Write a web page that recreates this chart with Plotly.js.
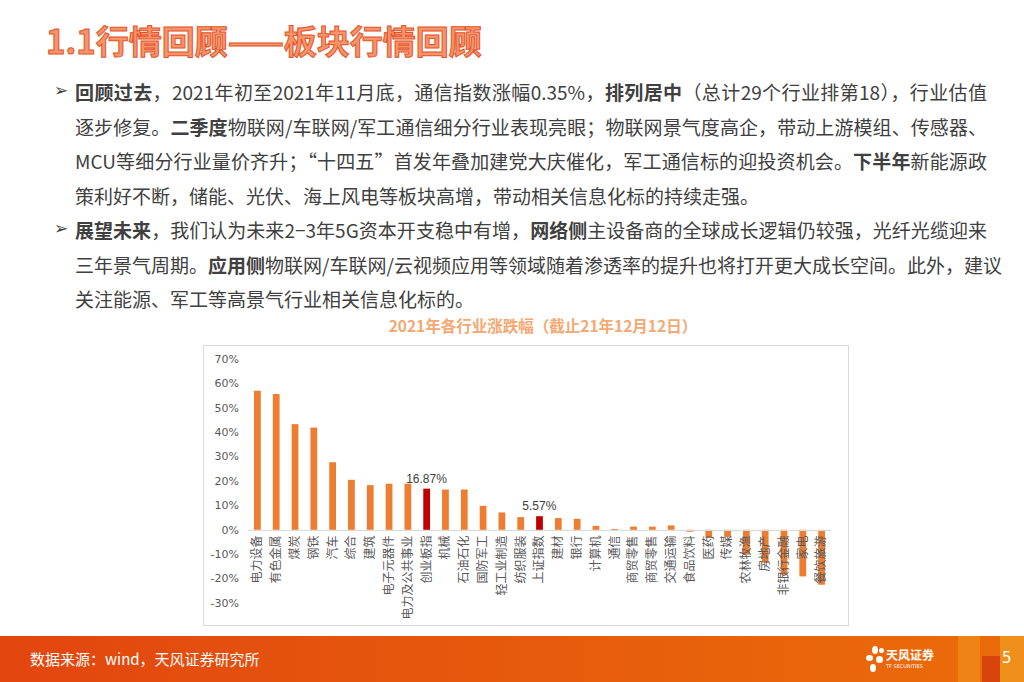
<!DOCTYPE html>
<html>
<head>
<meta charset="utf-8">
<script src="https://cdn.plot.ly/plotly-3.0.1.min.js"></script>
<style>
  html, body { margin:0; padding:0; width:1024px; height:682px; overflow:hidden; background:#fff;
    font-family:"Noto Sans CJK SC","Noto Sans",sans-serif; }
  #title { position:absolute; left:46px; top:16px; font-size:33px; font-weight:bold; color:#F59468;
    -webkit-text-stroke:1px #E4542C; letter-spacing:0px; white-space:nowrap; }
  #body { position:absolute; left:75px; top:75px; width:912px; font-size:19px; line-height:34.5px; color:#404040; }
  .ln { text-align:justify; text-align-last:justify; white-space:nowrap; height:34.5px; }
  .last { text-align-last:left; }
  b { font-weight:bold; color:#404040; }
  .bullet { position:absolute; left:54px; font-size:17px; color:#404040; font-family:"DejaVu Sans"; }
  #frame { position:absolute; left:203px; top:345px; width:644px; height:279px; border:1px solid #D9D9D9; }
  #chart { position:absolute; left:203px; top:310px; width:645px; height:315px; }
  #footer { position:absolute; left:0; top:636px; width:1024px; height:46px;
    background:linear-gradient(90deg,#E2460F 0%,#E65A0C 50%,#EB6C0A 100%); }
  #src { position:absolute; left:30px; top:12px; color:#fff; font-size:15px; }
  #logo { position:absolute; left:866px; top:10px; color:#fff; }
  #logo .nm { position:absolute; left:20px; top:0px; font-size:12px; font-weight:bold; white-space:nowrap; }
  #logo .en { position:absolute; left:20px; top:17px; font-size:5px; white-space:nowrap; font-family:"DejaVu Sans"; }
  .pet { position:absolute; background:#fff; border-radius:50%; }
  #blk1 { position:absolute; left:958px; top:0; width:22px; height:46px; background:#EE8A18; opacity:0.8; }
  #blk2 { position:absolute; left:982px; top:20px; width:18px; height:26px; background:#D9440C; }
  #blk3 { position:absolute; left:1000px; top:0; width:24px; height:46px; background:#F0901C; }
  #pg { position:absolute; left:1002px; top:13px; color:#fff; font-size:15px; font-family:"DejaVu Sans"; }
</style>
</head>
<body>
<div id="title">1.1行情回顾——板块行情回顾</div>
<span class="bullet" style="top:80px">➢</span>
<span class="bullet" style="top:218px">➢</span>
<div id="body">
  <div class="ln"><b>回顾过去</b>，2021年初至2021年11月底，通信指数涨幅0.35%，<b>排列居中</b>（总计29个行业排第18），行业估值</div>
  <div class="ln">逐步修复。<b>二季度</b>物联网/车联网/军工通信细分行业表现亮眼；物联网景气度高企，带动上游模组、传感器、</div>
  <div class="ln">MCU等细分行业量价齐升；“十四五”首发年叠加建党大庆催化，军工通信标的迎投资机会。<b>下半年</b>新能源政</div>
  <div class="ln last">策利好不断，储能、光伏、海上风电等板块高增，带动相关信息化标的持续走强。</div>
  <div class="ln"><b>展望未来</b>，我们认为未来2−3年5G资本开支稳中有增，<b>网络侧</b>主设备商的全球成长逻辑仍较强，光纤光缆迎来</div>
  <div class="ln">三年景气周期。<b>应用侧</b>物联网/车联网/云视频应用等领域随着渗透率的提升也将打开更大成长空间。此外，建议</div>
  <div class="ln last">关注能源、军工等高景气行业相关信息化标的。</div>
</div>
<div id="frame"></div>
<div id="chart"></div>
<div id="footer">
  <div id="src">数据来源：wind，天风证券研究所</div>
  <div id="logo">
    <div class="pet" style="left:6px;top:0px;width:6px;height:8px"></div>
    <div class="pet" style="left:0px;top:9px;width:7px;height:6px"></div>
    <div class="pet" style="left:10px;top:10px;width:7px;height:7px"></div>
    <div class="pet" style="left:4px;top:18px;width:6px;height:8px"></div>
    <div class="pet" style="left:13px;top:2px;width:5px;height:5px"></div>
    <div class="nm">天风证券</div>
    <div class="en">TF SECURITIES</div>
  </div>
  <div id="blk1"></div><div id="blk2"></div><div id="blk3"></div>
  <div id="pg">5</div>
</div>
<script>
const categories = ['电力设备','有色金属','煤炭','钢铁','汽车','综合','建筑','电子元器件','电力及公共事业','创业板指',
  '机械','石油石化','国防军工','轻工业制造','纺织服装','上证指数','建材','银行','计算机','通信',
  '商贸零售','商贸零售','交通运输','食品饮料','医药','传媒','农林牧渔','房地产','非银行金融','家电','餐饮旅游'];
const changePct = [57.0, 55.7, 43.3, 41.9, 27.7, 20.5, 18.3, 18.9, 18.9, 16.87,
  16.5, 16.5, 9.8, 7.1, 5.2, 5.57, 4.8, 4.5, 1.6, 0.35,
  1.3, 1.3, 1.8, -0.8, -3.3, -2.9, -10.2, -13.5, -18.4, -19.1, -22.5];
const indexNames = ['创业板指','上证指数'];
const yTickVals = [-30,-20,-10,0,10,20,30,40,50,60,70];

const xs = categories.map((c,i)=>i);
const colors = categories.map(c => indexNames.includes(c) ? '#C00000' : '#ED7D31');
const labels = categories.map((c,i) => indexNames.includes(c) ? changePct[i].toFixed(2)+'%' : '');

const trace = {
  type:'bar', x:xs, y:changePct, marker:{color:colors}, width:0.36,
  text:labels, textposition:'outside', cliponaxis:false, constraintext:'none',
  textfont:{size:12, color:'#404040', family:'Liberation Sans, sans-serif'},
  hoverinfo:'skip'
};
const layout = {
  width:645, height:315,
  margin:{l:45, r:17, t:49, b:22},
  paper_bgcolor:'rgba(0,0,0,0)', plot_bgcolor:'rgba(0,0,0,0)',
  showlegend:false,
  title:{text:'2021年各行业涨跌幅（截止21年12月12日）', xref:'container', x:0.527, xanchor:'center',
    yref:'container', y:0.946, yanchor:'middle',
    font:{size:15.5, color:'#F5A870', family:'Noto Sans CJK SC', weight:'bold'}},
  xaxis:{range:[-0.5,30.5], anchor:'free', position:0.3, tickmode:'array', tickvals:xs, ticktext:categories,
    tickangle:-90, ticks:'', showline:true, linecolor:'#D9D9D9', linewidth:1, showgrid:false, zeroline:false,
    tickfont:{size:12, color:'#595959', family:'Noto Sans CJK SC'}, fixedrange:true},
  yaxis:{range:[-30,70], tickmode:'array', tickvals:yTickVals, ticktext:yTickVals.map(v=>v+'%'),
    showgrid:false, zeroline:false, showline:false, ticks:'', ticklabelstandoff:8,
    tickfont:{size:11, color:'#595959', family:'DejaVu Sans'}, fixedrange:true},
  bargap:0.64
};
Plotly.newPlot('chart',[trace],layout,{displayModeBar:false, staticPlot:true});
</script>
</body>
</html>
